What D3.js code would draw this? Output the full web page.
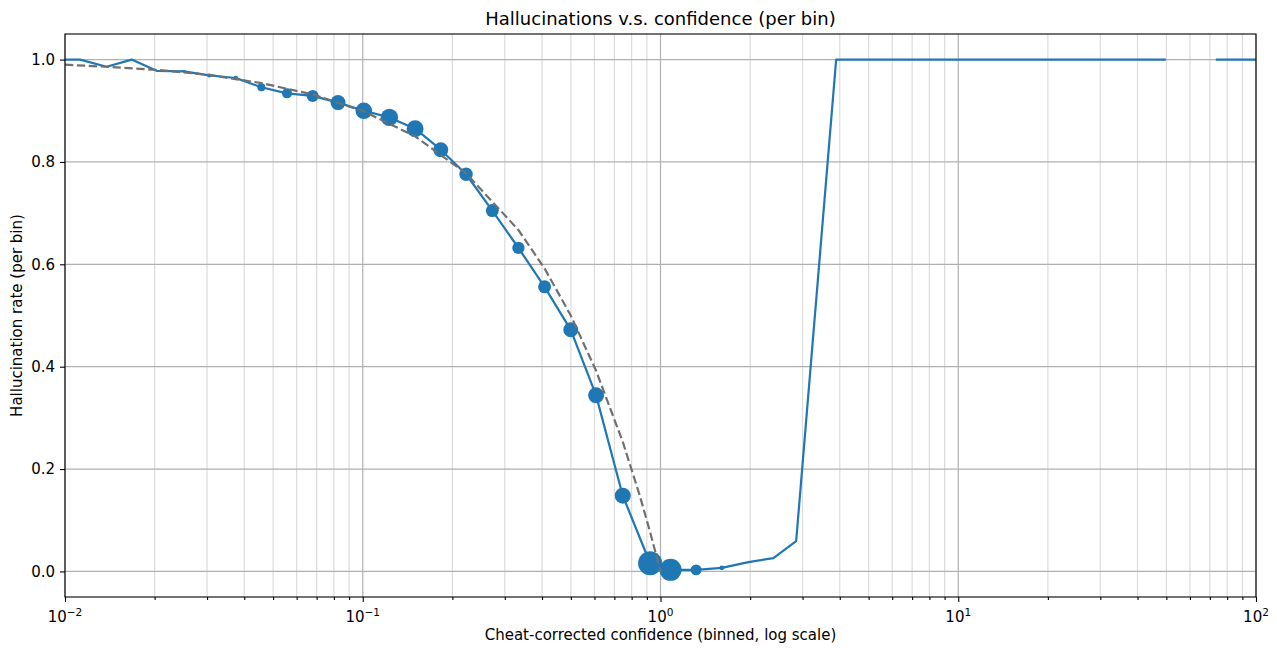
<!DOCTYPE html>
<html>
<head>
<meta charset="utf-8">
<script src="https://cdn.jsdelivr.net/npm/d3@7/dist/d3.min.js"></script>
<style>
  body { margin: 0; background: #fff; }
  text { font-family: "DejaVu Sans", sans-serif; fill: #000; }
</style>
</head>
<body>
<div id="chart"></div>
<script>
// binned confidence (bin means) and hallucination rate per bin
const binConf = [0.0092, 0.01123, 0.0138, 0.01675, 0.0203, 0.0251, 0.0305, 0.03745, 0.04565, 0.05567,
  0.0679, 0.0826, 0.1008, 0.1229, 0.1499, 0.1828, 0.2223, 0.2724, 0.3333, 0.408,
  0.4996, 0.6077, 0.747, 0.9228, 1.081, 1.317, 1.607, 1.974, 2.394, 2.855,
  3.89, 4.74, 5.78, 7.05, 8.59, 10.47, 12.76, 15.56, 18.97, 23.12,
  28.19, 34.37, 41.9, 49.8, 60.7, 73.3, 89.4, 109];
const halluRate = [1.0, 1.0, 0.986, 1.0, 0.978, 0.977, 0.969, 0.964, 0.946, 0.934,
  0.929, 0.916, 0.900, 0.887, 0.865, 0.824, 0.776, 0.705, 0.632, 0.556,
  0.472, 0.344, 0.148, 0.016, 0.003, 0.003, 0.007, 0.018, 0.026, 0.059,
  1.0, 1.0, 1.0, 1.0, 1.0, 1.0, 1.0, 1.0, 1.0, 1.0,
  1.0, 1.0, 1.0, 1.0, null, 1.0, 1.0, 1.0];
// samples per bin (marker area)
const binCount = [0, 0, 0, 0, 0, 20, 40, 55, 160, 250,
  360, 560, 690, 750, 720, 560, 450, 420, 380, 420,
  560, 640, 640, 1440, 1210, 300, 60, 10, 3, 0,
  0, 0, 0, 0, 0, 0, 0, 0, 0, 0,
  0, 0, 0, 0, 0, 0, 0, 0];

// reference (perfect calibration) dashed curve
const refConf = [0.01, 0.0138, 0.0203, 0.0305, 0.0457, 0.0679, 0.1008, 0.1499, 0.2223, 0.3333,
  0.408, 0.4996, 0.6077, 0.747, 0.85, 0.9228, 1.0];
const refRate = [0.99, 0.986, 0.980, 0.970, 0.954, 0.932, 0.899, 0.850, 0.778, 0.667,
  0.592, 0.500, 0.392, 0.253, 0.150, 0.077, 0.0];

const yTicks = [0.0, 0.2, 0.4, 0.6, 0.8, 1.0];
const xDecades = [-2, -1, 0, 1, 2];

const W = 1277, H = 648;
const margin = { top: 34, right: 21, bottom: 51, left: 65 };
const blue = "#1f77b4";
const fs = "15px";

const svg = d3.select("#chart").append("svg")
  .attr("width", W).attr("height", H);

const x = d3.scaleLog().domain([0.01, 100]).range([margin.left, W - margin.right]);
const y = d3.scaleLinear().domain([-0.05, 1.05]).range([H - margin.bottom, margin.top]);
const r = d3.scaleSqrt().domain([0, 1440]).range([0, 12]);

svg.append("clipPath").attr("id", "plot")
  .append("rect")
  .attr("x", margin.left).attr("y", margin.top)
  .attr("width", W - margin.left - margin.right)
  .attr("height", H - margin.top - margin.bottom);

// grid
const minorVals = [];
xDecades.slice(0, -1).forEach(e => {
  for (let k = 2; k <= 9; k++) minorVals.push(k * Math.pow(10, e));
});
const majorVals = xDecades.map(e => Math.pow(10, e));

const grid = svg.append("g");
grid.selectAll(".minor").data(minorVals).enter().append("line")
  .attr("x1", d => x(d)).attr("x2", d => x(d))
  .attr("y1", margin.top).attr("y2", H - margin.bottom)
  .attr("stroke", "#dcdcdc").attr("stroke-width", 1.2);
grid.selectAll(".major").data(majorVals).enter().append("line")
  .attr("x1", d => x(d)).attr("x2", d => x(d))
  .attr("y1", margin.top).attr("y2", H - margin.bottom)
  .attr("stroke", "#b0b0b0").attr("stroke-width", 1.2);
grid.selectAll(".hy").data(yTicks).enter().append("line")
  .attr("x1", margin.left).attr("x2", W - margin.right)
  .attr("y1", d => y(d)).attr("y2", d => y(d))
  .attr("stroke", "#b0b0b0").attr("stroke-width", 1.2);

const pts = binConf.map((c, i) => ({ c: c, h: halluRate[i], n: binCount[i] }));
const plot = svg.append("g").attr("clip-path", "url(#plot)");

const line = d3.line()
  .defined(d => d.h != null)
  .x(d => x(d.c)).y(d => y(d.h));

plot.append("path")
  .datum(pts)
  .attr("d", line)
  .attr("fill", "none")
  .attr("stroke", blue)
  .attr("stroke-width", 2.2)
  .attr("stroke-linejoin", "round");

plot.selectAll(".dot")
  .data(pts.filter(d => d.h != null && d.n > 0))
  .enter().append("circle")
  .attr("class", "dot")
  .attr("cx", d => x(d.c))
  .attr("cy", d => y(d.h))
  .attr("r", d => r(d.n))
  .attr("fill", blue);

const ref = refConf.map((c, i) => ({ c: c, h: refRate[i] }));
plot.append("path")
  .datum(ref)
  .attr("d", line)
  .attr("fill", "none")
  .attr("stroke", "#707070")
  .attr("stroke-width", 2.2)
  .attr("stroke-dasharray", "8.3,3.6");

// axes
const xAxis = svg.append("g").attr("transform", `translate(0,${H - margin.bottom})`);
xAxis.append("g")
  .call(d3.axisBottom(x).tickValues(minorVals).tickSize(3).tickFormat(""))
  .call(g => g.select(".domain").remove());
xAxis.append("g")
  .call(d3.axisBottom(x).tickValues(majorVals).tickSize(5).tickFormat(""))
  .call(g => g.select(".domain").remove());
xAxis.selectAll("line").attr("stroke", "#000").attr("stroke-width", 1.1);

const xlab = xAxis.selectAll(".xl").data(xDecades).enter().append("text")
  .attr("x", d => x(Math.pow(10, d)))
  .attr("y", 25)
  .attr("text-anchor", "middle")
  .style("font-size", fs);
xlab.append("tspan").text("10");
xlab.append("tspan").attr("dy", -6).style("font-size", "10.5px")
  .text(d => d < 0 ? "\u2212" + (-d) : String(d));

const yAxis = svg.append("g").attr("transform", `translate(${margin.left},0)`)
  .call(d3.axisLeft(y).tickValues(yTicks).tickSize(5).tickPadding(5).tickFormat(d3.format(".1f")));
yAxis.select(".domain").remove();
yAxis.selectAll("line").attr("stroke", "#000").attr("stroke-width", 1.1);
yAxis.selectAll("text").style("font-size", fs).style("font-family", "DejaVu Sans");

// frame
svg.append("rect")
  .attr("x", margin.left).attr("y", margin.top)
  .attr("width", W - margin.left - margin.right)
  .attr("height", H - margin.top - margin.bottom)
  .attr("fill", "none").attr("stroke", "#000").attr("stroke-width", 1.1);

// titles
svg.append("text")
  .attr("x", (margin.left + W - margin.right) / 2).attr("y", 25)
  .attr("text-anchor", "middle").style("font-size", "18px")
  .text("Hallucinations v.s. confidence (per bin)");
svg.append("text")
  .attr("x", (margin.left + W - margin.right) / 2).attr("y", 640)
  .attr("text-anchor", "middle").style("font-size", fs)
  .text("Cheat-corrected confidence (binned, log scale)");
svg.append("text")
  .attr("transform", `translate(22,${(margin.top + H - margin.bottom) / 2}) rotate(-90)`)
  .attr("text-anchor", "middle").style("font-size", fs)
  .text("Hallucination rate (per bin)");
</script>
</body>
</html>
